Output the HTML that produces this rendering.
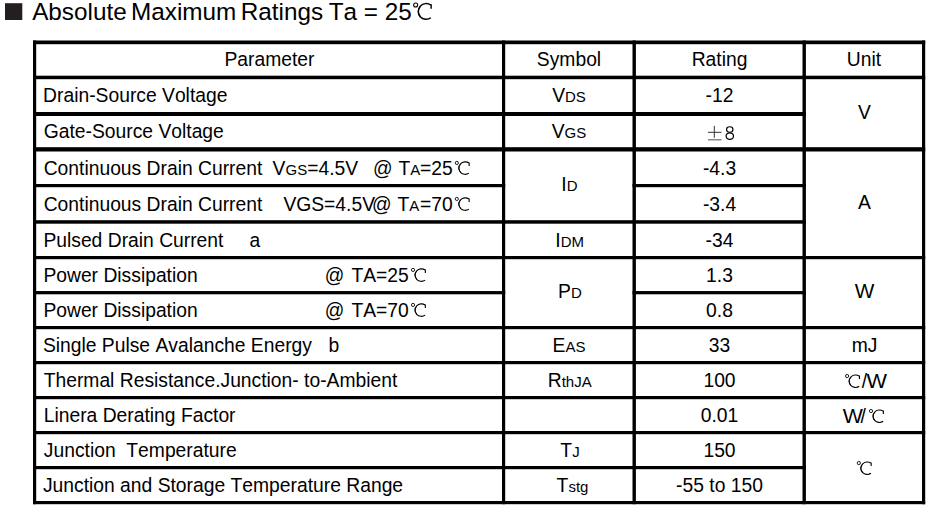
<!DOCTYPE html>
<html><head><meta charset="utf-8"><style>
html,body{margin:0;padding:0;background:#fff;width:932px;height:507px;overflow:hidden}
svg{display:block}
text{font-family:"Liberation Sans",sans-serif;fill:#000;font-kerning:none}
</style></head><body>
<svg width="932" height="507" viewBox="0 0 932 507">
<rect x="33" y="40.5" width="3.2" height="463.7" fill="#000"/>
<rect x="502" y="40.5" width="3.2" height="463.7" fill="#000"/>
<rect x="632.5" y="40.5" width="3.4" height="463.7" fill="#000"/>
<rect x="802.5" y="40.5" width="3.4" height="463.7" fill="#000"/>
<rect x="922" y="40.5" width="3.2" height="463.7" fill="#000"/>
<rect x="33" y="40.5" width="892.2" height="3.7" fill="#000"/>
<rect x="33" y="75.7" width="892.2" height="3.5" fill="#000"/>
<rect x="33" y="112.0" width="772.9" height="4.0" fill="#000"/>
<rect x="33" y="147.2" width="892.2" height="4.3" fill="#000"/>
<rect x="33" y="184.0" width="472.2" height="3.2" fill="#000"/>
<rect x="632.5" y="184.0" width="173.4" height="3.2" fill="#000"/>
<rect x="33" y="220.2" width="772.9" height="3.5" fill="#000"/>
<rect x="33" y="256.0" width="892.2" height="3.2" fill="#000"/>
<rect x="33" y="291.05" width="472.2" height="3.25" fill="#000"/>
<rect x="632.5" y="291.05" width="173.4" height="3.25" fill="#000"/>
<rect x="33" y="326.0" width="892.2" height="3.2" fill="#000"/>
<rect x="33" y="361.0" width="892.2" height="3.2" fill="#000"/>
<rect x="33" y="396.0" width="892.2" height="3.2" fill="#000"/>
<rect x="33" y="431.0" width="892.2" height="3.2" fill="#000"/>
<rect x="33" y="466.0" width="772.9" height="3.2" fill="#000"/>
<rect x="33" y="501.0" width="892.2" height="3.2" fill="#000"/>
<rect x="5" y="3.2" width="17.3" height="16.8" fill="#231f20"/>
<rect x="707.9" y="131.8" width="13.6" height="1.0" fill="#333"/>
<rect x="713.8" y="125.9" width="1.0" height="11.9" fill="#333"/>
<rect x="707.9" y="139.0" width="13.6" height="1.5" fill="#888"/>
<text x="32.15" y="20" text-anchor="start" font-size="24.3">Absolute</text>
<text x="131.0" y="20" text-anchor="start" font-size="24.3">Maximum</text>
<text x="240.8" y="20" text-anchor="start" font-size="24.3">Ratings</text>
<text x="328.65" y="20" text-anchor="start" font-size="24.3" style="white-space:pre">Ta = 25</text>
<circle cx="415.65" cy="4.93" r="2.00" fill="none" stroke="#000" stroke-width="1.09"/>
<path d="M430.91,5.07 A8.02,7.86 0 1 0 430.91,17.79" fill="none" stroke="#000" stroke-width="1.41"/>
<path d="M420.35,6.38 A8.02,7.86 0 0 0 420.35,16.49" fill="none" stroke="#000" stroke-width="1.13"/>
<path d="M431.15,4.35 L431.15,8.72" stroke="#000" stroke-width="1.41"/>
<text x="269.5" y="66.0" text-anchor="middle" font-size="19.3">Parameter</text>
<text x="569" y="66.0" text-anchor="middle" font-size="19.3">Symbol</text>
<text x="719.5" y="66.0" text-anchor="middle" font-size="19.3">Rating</text>
<text x="864" y="66.0" text-anchor="middle" font-size="19.3">Unit</text>
<text x="43.1" y="101.6" text-anchor="start" font-size="19.3" style="white-space:pre">Drain-Source Voltage</text>
<text x="43.75" y="138.0" text-anchor="start" font-size="19.3" style="white-space:pre">Gate-Source Voltage</text>
<text x="43.4" y="246.8" text-anchor="start" font-size="19.3" style="white-space:pre">Pulsed Drain Current</text>
<text x="43.4" y="281.9" text-anchor="start" font-size="19.3" style="white-space:pre">Power Dissipation</text>
<text x="43.4" y="316.9" text-anchor="start" font-size="19.3" style="white-space:pre">Power Dissipation</text>
<text x="42.9" y="352.0" text-anchor="start" font-size="19.3" style="white-space:pre">Single Pulse Avalanche Energy</text>
<text x="43.7" y="386.9" text-anchor="start" font-size="19.3" style="white-space:pre">Thermal Resistance.Junction- to-Ambient</text>
<text x="43.7" y="421.9" text-anchor="start" font-size="19.3" style="white-space:pre">Linera Derating Factor</text>
<text x="43.8" y="457.0" text-anchor="start" font-size="19.3" style="white-space:pre">Junction  Temperature</text>
<text x="42.95" y="492.0" text-anchor="start" font-size="19.3" style="white-space:pre">Junction and Storage Temperature Range</text>
<text x="43.7" y="174.9" text-anchor="start" font-size="19.3">Continuous Drain Current</text>
<text x="43.7" y="210.9" text-anchor="start" font-size="19.3">Continuous Drain Current</text>
<text x="272.6" y="174.9" text-anchor="start" font-size="19.3">V<tspan font-size="15.0">GS</tspan>=4.5V</text>
<text x="372.9" y="174.9" text-anchor="start" font-size="19.3">@</text>
<text x="398.45" y="174.9" text-anchor="start" font-size="19.3">T<tspan font-size="15.0">A</tspan></text>
<text x="420.1" y="174.9" text-anchor="start" font-size="19.3">=25</text>
<circle cx="456.83" cy="162.93" r="1.59" fill="none" stroke="#000" stroke-width="0.87"/>
<path d="M468.95,163.05 A6.37,6.24 0 1 0 468.95,173.15" fill="none" stroke="#000" stroke-width="1.12"/>
<path d="M460.56,164.08 A6.37,6.24 0 0 0 460.56,172.11" fill="none" stroke="#000" stroke-width="0.90"/>
<path d="M469.14,162.47 L469.14,165.94" stroke="#000" stroke-width="1.12"/>
<text x="283.4" y="210.9" text-anchor="start" font-size="19.3">VGS=4.5V</text>
<text x="372.1" y="210.9" text-anchor="start" font-size="19.3">@</text>
<text x="397.55" y="210.9" text-anchor="start" font-size="19.3">T<tspan font-size="15.0">A</tspan></text>
<text x="420.1" y="210.9" text-anchor="start" font-size="19.3">=70</text>
<circle cx="456.83" cy="198.93" r="1.59" fill="none" stroke="#000" stroke-width="0.87"/>
<path d="M468.95,199.05 A6.37,6.24 0 1 0 468.95,209.15" fill="none" stroke="#000" stroke-width="1.12"/>
<path d="M460.56,200.08 A6.37,6.24 0 0 0 460.56,208.11" fill="none" stroke="#000" stroke-width="0.90"/>
<path d="M469.14,198.47 L469.14,201.94" stroke="#000" stroke-width="1.12"/>
<text x="249.4" y="246.8" text-anchor="start" font-size="19.3">a</text>
<text x="324.7" y="281.9" text-anchor="start" font-size="19.3">@</text>
<text x="351.4" y="281.9" text-anchor="start" font-size="19.3">TA=25</text>
<circle cx="413.03" cy="269.93" r="1.59" fill="none" stroke="#000" stroke-width="0.87"/>
<path d="M425.15,270.05 A6.37,6.24 0 1 0 425.15,280.15" fill="none" stroke="#000" stroke-width="1.12"/>
<path d="M416.76,271.08 A6.37,6.24 0 0 0 416.76,279.11" fill="none" stroke="#000" stroke-width="0.90"/>
<path d="M425.34,269.47 L425.34,272.94" stroke="#000" stroke-width="1.12"/>
<text x="324.7" y="316.9" text-anchor="start" font-size="19.3">@</text>
<text x="351.4" y="316.9" text-anchor="start" font-size="19.3">TA=70</text>
<circle cx="413.03" cy="304.93" r="1.59" fill="none" stroke="#000" stroke-width="0.87"/>
<path d="M425.15,305.05 A6.37,6.24 0 1 0 425.15,315.15" fill="none" stroke="#000" stroke-width="1.12"/>
<path d="M416.76,306.08 A6.37,6.24 0 0 0 416.76,314.11" fill="none" stroke="#000" stroke-width="0.90"/>
<path d="M425.34,304.47 L425.34,307.94" stroke="#000" stroke-width="1.12"/>
<text x="328.55" y="352.0" text-anchor="start" font-size="19.3">b</text>
<text x="569" y="101.6" text-anchor="middle" font-size="19.3">V<tspan font-size="15.0">DS</tspan></text>
<text x="569" y="138.0" text-anchor="middle" font-size="19.3">V<tspan font-size="15.0">GS</tspan></text>
<text x="569.4" y="191.0" text-anchor="middle" font-size="19.3">I<tspan font-size="15.0">D</tspan></text>
<text x="569.7" y="246.8" text-anchor="middle" font-size="19.3">I<tspan font-size="15.0">DM</tspan></text>
<text x="569.9" y="297.8" text-anchor="middle" font-size="19.3">P<tspan font-size="15.0">D</tspan></text>
<text x="569" y="352.0" text-anchor="middle" font-size="19.3">E<tspan font-size="15.0">AS</tspan></text>
<text x="569.7" y="386.9" text-anchor="middle" font-size="19.3">R<tspan font-size="15.0">thJA</tspan></text>
<text x="570.0" y="457.0" text-anchor="middle" font-size="19.3">T<tspan font-size="15.0">J</tspan></text>
<text x="572.5" y="492.0" text-anchor="middle" font-size="19.3">T<tspan font-size="15.0">stg</tspan></text>
<text x="719.5" y="101.6" text-anchor="middle" font-size="19.3">-12</text>
<text x="719.5" y="174.9" text-anchor="middle" font-size="19.3">-4.3</text>
<text x="719.5" y="210.9" text-anchor="middle" font-size="19.3">-3.4</text>
<text x="719.5" y="246.8" text-anchor="middle" font-size="19.3">-34</text>
<text x="719.5" y="281.9" text-anchor="middle" font-size="19.3">1.3</text>
<text x="719.5" y="316.9" text-anchor="middle" font-size="19.3">0.8</text>
<text x="719.5" y="352.0" text-anchor="middle" font-size="19.3">33</text>
<text x="719.5" y="386.9" text-anchor="middle" font-size="19.3">100</text>
<text x="719.5" y="421.9" text-anchor="middle" font-size="19.3">0.01</text>
<text x="719.5" y="457.0" text-anchor="middle" font-size="19.3">150</text>
<text x="719.5" y="492.0" text-anchor="middle" font-size="19.3">-55 to 150</text>
<ellipse cx="729.75" cy="129.45" rx="3.2" ry="2.75" fill="none" stroke="#000" stroke-width="1.15"/>
<ellipse cx="729.8" cy="136.1" rx="3.7" ry="3.35" fill="none" stroke="#000" stroke-width="1.25"/>
<text x="864.5" y="119.0" text-anchor="middle" font-size="19.3">V</text>
<text x="864.5" y="208.8" text-anchor="middle" font-size="19.3">A</text>
<text x="864.5" y="297.8" text-anchor="middle" font-size="19.3" textLength="19.6" lengthAdjust="spacingAndGlyphs">W</text>
<text x="864.5" y="352.0" text-anchor="middle" font-size="19.3">mJ</text>
<circle cx="847.13" cy="376.03" r="1.59" fill="none" stroke="#000" stroke-width="0.87"/>
<path d="M859.25,376.15 A6.37,6.24 0 1 0 859.25,386.25" fill="none" stroke="#000" stroke-width="1.12"/>
<path d="M850.86,377.18 A6.37,6.24 0 0 0 850.86,385.21" fill="none" stroke="#000" stroke-width="0.90"/>
<path d="M859.44,375.57 L859.44,379.04" stroke="#000" stroke-width="1.12"/>
<text x="861.7" y="388.0" text-anchor="start" font-size="19.3">/</text>
<text x="866.4" y="388.0" text-anchor="start" font-size="19.3" textLength="20.5" lengthAdjust="spacingAndGlyphs">W</text>
<text x="842.7" y="423.0" text-anchor="start" font-size="19.3" textLength="20.1" lengthAdjust="spacingAndGlyphs">W</text>
<text x="860.5" y="423.0" text-anchor="start" font-size="19.3">/</text>
<circle cx="871.03" cy="411.03" r="1.59" fill="none" stroke="#000" stroke-width="0.87"/>
<path d="M883.15,411.15 A6.37,6.24 0 1 0 883.15,421.25" fill="none" stroke="#000" stroke-width="1.12"/>
<path d="M874.76,412.18 A6.37,6.24 0 0 0 874.76,420.21" fill="none" stroke="#000" stroke-width="0.90"/>
<path d="M883.34,410.57 L883.34,414.04" stroke="#000" stroke-width="1.12"/>
<circle cx="858.83" cy="463.03" r="1.59" fill="none" stroke="#000" stroke-width="0.87"/>
<path d="M870.95,463.15 A6.37,6.24 0 1 0 870.95,473.25" fill="none" stroke="#000" stroke-width="1.12"/>
<path d="M862.56,464.18 A6.37,6.24 0 0 0 862.56,472.21" fill="none" stroke="#000" stroke-width="0.90"/>
<path d="M871.14,462.57 L871.14,466.04" stroke="#000" stroke-width="1.12"/>
</svg>
</body></html>
